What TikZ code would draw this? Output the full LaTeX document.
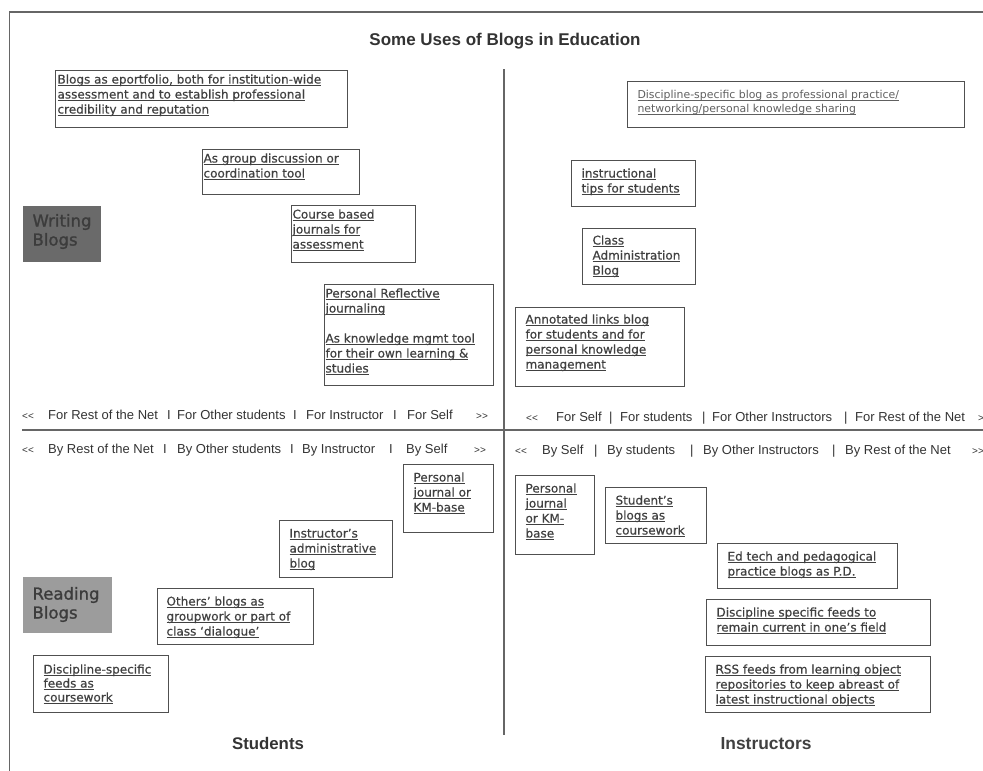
\documentclass[tikz,border=0pt]{standalone}
\usepackage{fontspec}
\setmainfont{DejaVu Sans}
\newfontfamily\bxfont[FakeBold=0.5]{DejaVu Sans}
\newfontfamily\labfont[FakeBold=1.3]{DejaVu Sans}
\newfontfamily\libsans{Liberation Sans}
\definecolor{txt}{HTML}{404040}
\definecolor{lighttxt}{HTML}{606060}
\definecolor{axt}{HTML}{333333}
\definecolor{bord}{HTML}{505050}
\definecolor{framec}{HTML}{666666}
\definecolor{darkfill}{HTML}{6A6A6A}
\definecolor{lightfill}{HTML}{9C9C9C}
\definecolor{labtxt}{HTML}{3C3C3C}
\newcommand\ulx[1]{\setbox0\hbox{#1}\leavevmode\rlap{\rule[-2pt]{\wd0}{0.7pt}}\box0}
% [style] name x y w h dx dy content
\newcommand\ubox[9][]{%
  \node[ubox,#1,anchor=north west] (#2) at (#3,#4)
    {\parbox[t][#6pt][t]{#5pt}{\raggedright\leftskip=#7pt\relax\rule{0pt}{#8pt}#9}};}
\tikzset{
  ubox/.style={draw=bord, line width=1.1pt, inner sep=0pt, text=txt,
    font=\bxfont\fontsize{12}{15}\selectfont},
  lightbox/.style={text=lighttxt, font=\normalfont\fontsize{10.9}{14}\selectfont},
  labbox/.style={draw=none, text=labtxt, font=\labfont\fontsize{16.5}{19}\selectfont},
  axis/.style={inner sep=0pt, text=axt, font=\libsans\fontsize{13}{15}\selectfont, anchor=base west},
  chev/.style={inner sep=0pt, text=axt, font=\libsans\fontsize{10}{12}\selectfont, anchor=base west},
  rule/.style={draw=framec, line width=1.2pt},
}
\begin{document}
\begin{tikzpicture}[x=1pt,y=-1pt]
\useasboundingbox (0,0) rectangle (983,771);
% frame and dividers
\coordinate (fr1) at (983,12);
\coordinate (fr2) at (9.5,12);
\coordinate (fr3) at (9.5,771);
\draw[rule] (fr1) -- (fr2) -- (fr3);
\coordinate (vd1) at (504,69);
\coordinate (vd2) at (504,735);
\draw[rule] (vd1) -- (vd2);
\coordinate (hd1) at (22,430);
\coordinate (hd2) at (983,430);
\draw[rule] (hd1) -- (hd2);
% title
\node[inner sep=0pt, anchor=base, text=axt, font=\libsans\bfseries\fontsize{17}{20}\selectfont] (title) at (505,45) {Some Uses of Blogs in Education};
% writing blogs, students
\ubox{b1}{55}{70}{292}{57}{2}{13}{\ulx{Blogs as eportfolio, both for institution-wide}\\\ulx{assessment and to establish professional}\\\ulx{credibility and reputation}}
\ubox{b2}{202}{149}{157}{45}{1}{13}{\ulx{As group discussion or}\\\ulx{coordination tool}}
\ubox{b3}{291}{205}{124}{57}{1}{13}{\ulx{Course based}\\\ulx{journals for}\\\ulx{assessment}}
\ubox{b4}{324}{284}{169}{101}{1}{13}{\ulx{Personal Reflective}\\\ulx{journaling}\\[15pt]\ulx{As knowledge mgmt tool}\\\ulx{for their own learning \&}\\\ulx{studies}}
% writing blogs, instructors
\ubox[lightbox]{b5}{627}{81}{337}{46}{10}{17}{\ulx{Discipline-specific blog as professional practice/}\\\ulx{networking/personal knowledge sharing}}
\ubox{b6}{571}{160}{124}{46}{10}{17}{\ulx{instructional}\\\ulx{tips for students}}
\ubox{b7}{582}{228}{113}{56}{10}{16}{\ulx{Class}\\\ulx{Administration}\\\ulx{Blog}}
\ubox{b8}{515}{307}{169}{79}{10}{16}{\ulx{Annotated links blog}\\\ulx{for students and for}\\\ulx{personal knowledge}\\\ulx{management}}
% reading blogs, students
\ubox{b9}{403}{464}{90}{68}{10}{17}{\ulx{Personal}\\\ulx{journal or}\\\ulx{KM-base}}
\ubox{b10}{279}{520}{113}{57}{10}{17}{\ulx{Instructor’s}\\\ulx{administrative}\\\ulx{blog}}
\ubox{b11}{157}{588}{156}{56}{9}{17}{\ulx{Others’ blogs as}\\\ulx{groupwork or part of}\\\ulx{class ‘dialogue’}}
\ubox[font=\bxfont\fontsize{12}{14}\selectfont]{b12}{33}{655}{135}{57}{10}{18}{\ulx{Discipline-specific}\\\ulx{feeds as}\\\ulx{coursework}}
% reading blogs, instructors
\ubox{b13}{515}{475}{79}{79}{10}{17}{\ulx{Personal}\\\ulx{journal}\\\ulx{or KM-}\\\ulx{base}}
\ubox{b14}{605}{487}{101}{56}{10}{17}{\ulx{Student’s}\\\ulx{blogs as}\\\ulx{coursework}}
\ubox{b15}{717}{543}{180}{45}{10}{17}{\ulx{Ed tech and pedagogical}\\\ulx{practice blogs as P.D.}}
\ubox{b16}{706}{599}{224}{46}{10}{17}{\ulx{Discipline specific feeds to}\\\ulx{remain current in one’s field}}
\ubox{b17}{705}{656}{225}{56}{10}{17}{\ulx{RSS feeds from learning object}\\\ulx{repositories to keep abreast of}\\\ulx{latest instructional objects}}
% side labels
\ubox[labbox, fill=darkfill]{wb}{22}{205}{78}{56}{10}{21}{Writing\\Blogs}
\ubox[labbox, fill=lightfill]{rb}{22}{576}{89}{56}{10}{23}{Reading\\Blogs}
% axis rows
\node[chev] (tlc1) at (22,419) {<<};
\foreach \t/\x [count=\i] in {For Rest of the Net/48, I/167, For Other students/177, I/293, For Instructor/306, I/393, For Self/407}
  {\node[axis] (tl\i) at (\x,419) {\t};}
\node[chev] (tlc2) at (476,419) {>>};
\node[chev] (blc1) at (22,453) {<<};
\foreach \t/\x [count=\i] in {By Rest of the Net/48, I/163, By Other students/177, I/290, By Instructor/302, I/389, By Self/406}
  {\node[axis] (bl\i) at (\x,453) {\t};}
\node[chev] (blc2) at (474,453) {>>};
\node[chev] (trc1) at (526,421) {<<};
\foreach \t/\x [count=\i] in {For Self/556, |/609, For students/620, |/702, For Other Instructors/712, |/844, For Rest of the Net/855}
  {\node[axis] (tr\i) at (\x,421) {\t};}
\node[chev] (trc2) at (978,421) {>>};
\node[chev] (brc1) at (515,454) {<<};
\foreach \t/\x [count=\i] in {By Self/542, |/594, By students/607, |/690, By Other Instructors/703, |/832, By Rest of the Net/845}
  {\node[axis] (br\i) at (\x,454) {\t};}
\node[chev] (brc2) at (972,454) {>>};
% column labels
\node[inner sep=0pt, anchor=base, text=axt, font=\libsans\bfseries\fontsize{16.8}{20}\selectfont] (stud) at (268,749) {Students};
\node[inner sep=0pt, anchor=base, text=txt, font=\libsans\bfseries\fontsize{17.4}{20}\selectfont] (instr) at (766,749) {Instructors};
\end{tikzpicture}
\end{document}
